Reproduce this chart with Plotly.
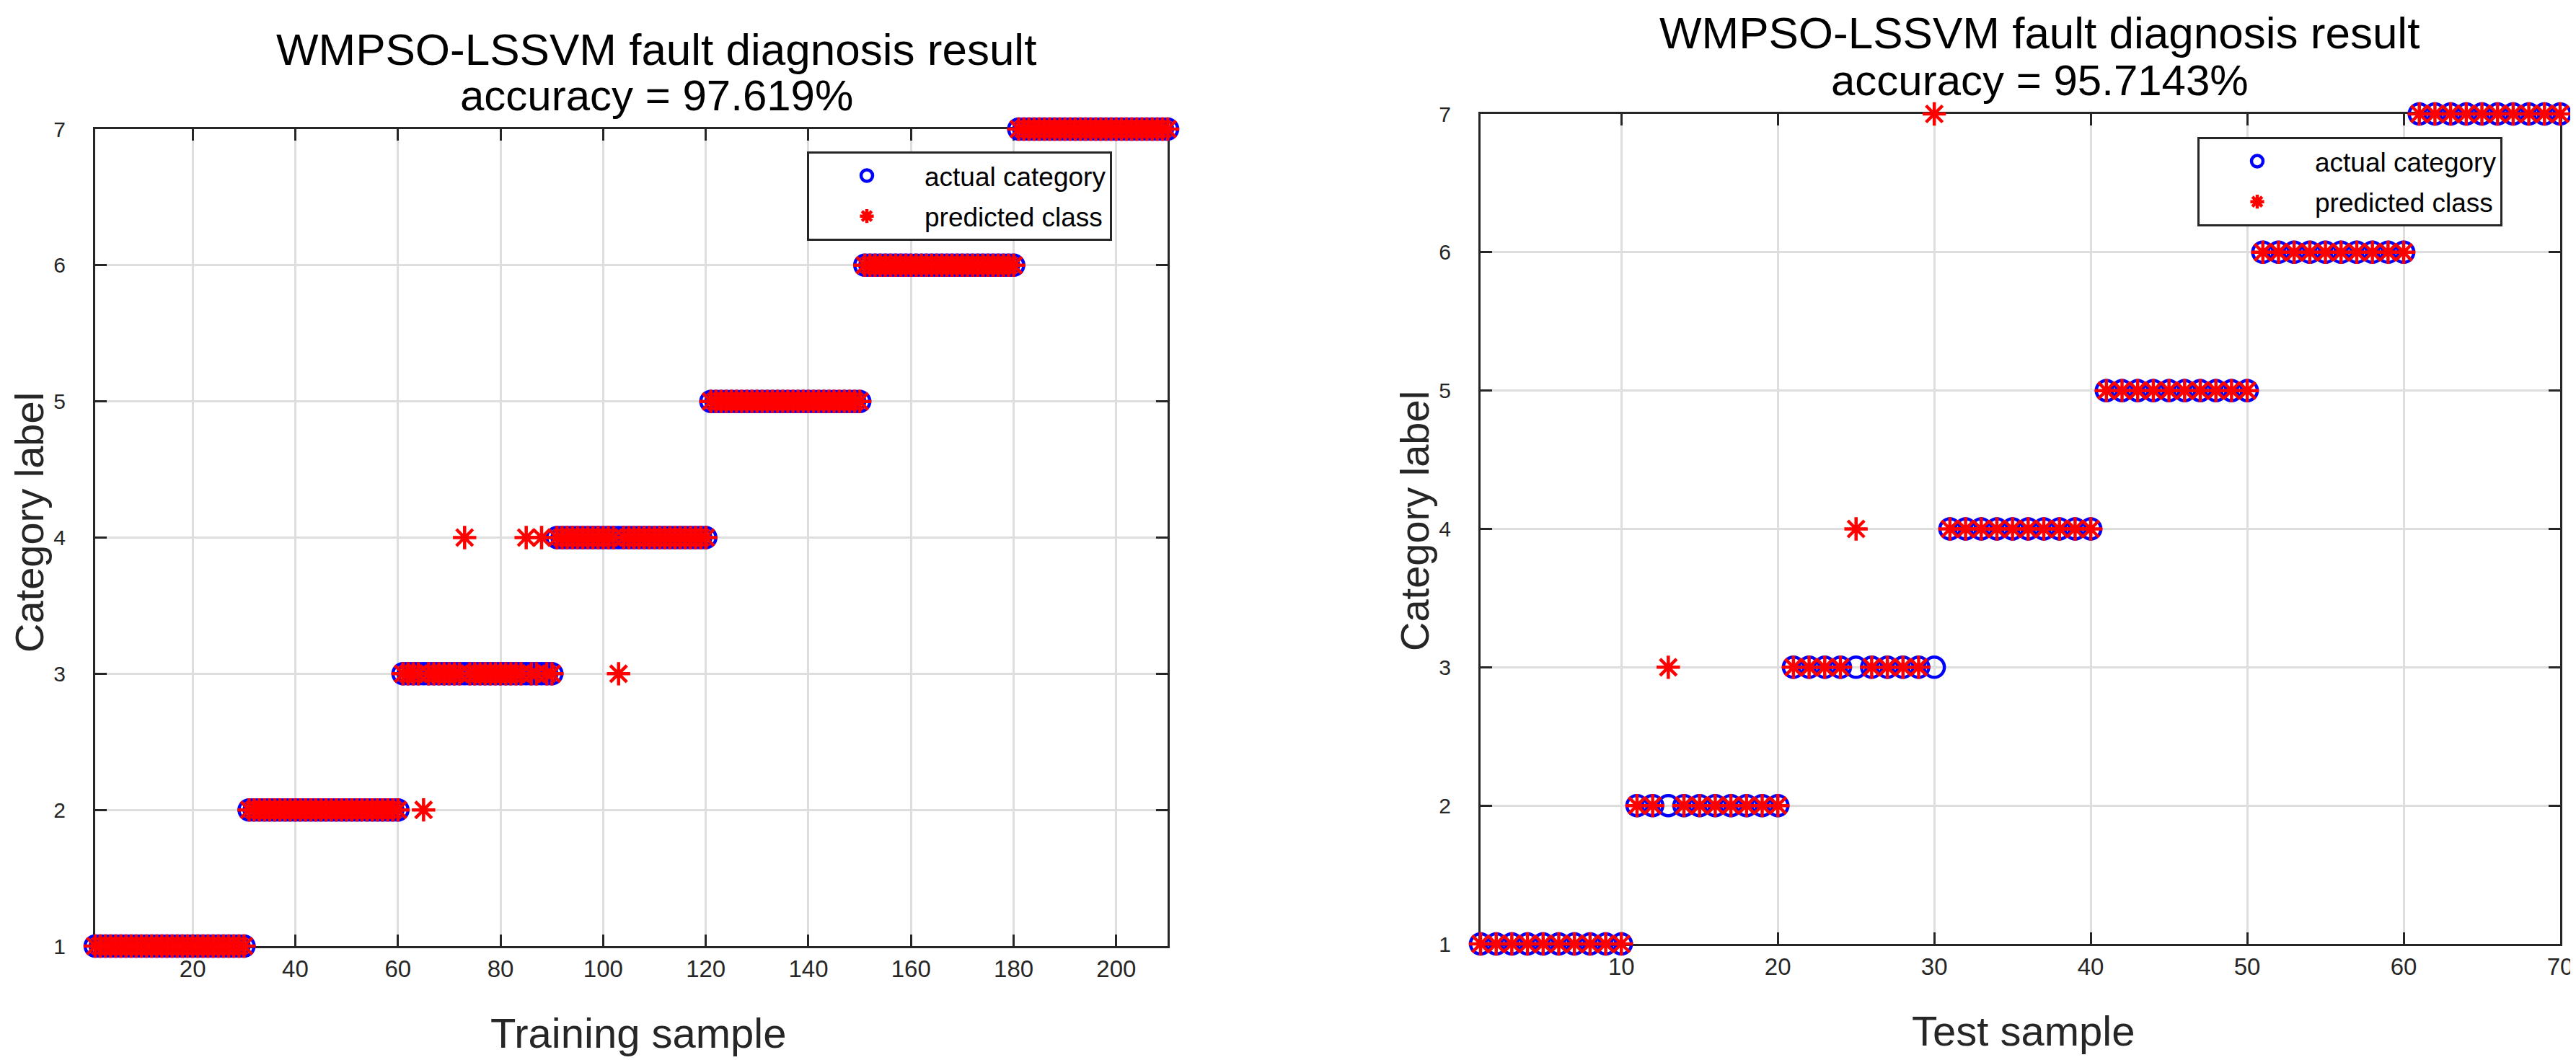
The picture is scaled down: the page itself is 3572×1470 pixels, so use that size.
import plotly.graph_objects as go

# training set: 210 samples, 30 per class
train_idx = list(range(1, 211))
train_actual = [1] * 30 + [2] * 30 + [3] * 30 + [4] * 30 + [5] * 30 + [6] * 30 + [7] * 30
train_errors = {65: 2, 73: 4, 85: 4, 88: 4, 103: 3}   # sample -> wrong predicted class
train_pred = [train_errors.get(i, c) for i, c in zip(train_idx, train_actual)]

# test set: 70 samples, 10 per class
test_idx = list(range(1, 71))
test_actual = [1] * 10 + [2] * 10 + [3] * 10 + [4] * 10 + [5] * 10 + [6] * 10 + [7] * 10
test_errors = {13: 3, 25: 4, 30: 7}
test_pred = [test_errors.get(i, c) for i, c in zip(test_idx, test_actual)]

train_xticks = [20, 40, 60, 80, 100, 120, 140, 160, 180, 200]
test_xticks = [10, 20, 30, 40, 50, 60, 70]
yticks = [1, 2, 3, 4, 5, 6, 7]

title_main = "WMPSO-LSSVM fault diagnosis result"
train_acc = "accuracy = 97.619%"
test_acc = "accuracy = 95.7143%"

W, H = 3572, 1470
FONT = "Liberation Sans, Arial, Helvetica, sans-serif"
AX = "#262626"
GRID = "#dedede"

fig = go.Figure()

def add_pair(x, actual, pred, xa, ya, leg):
    fig.add_trace(go.Scatter(
        x=x, y=actual, mode="markers", name="actual category",
        xaxis=xa, yaxis=ya, legend=leg, legendgroup=leg + "a",
        cliponaxis=False,
        marker=dict(symbol="circle-open", size=28, color="#0000ff",
                    line=dict(width=4.5, color="#0000ff")),
    ))
    fig.add_trace(go.Scatter(
        x=x, y=pred, mode="markers", name="predicted class",
        xaxis=xa, yaxis=ya, legend=leg, legendgroup=leg + "p",
        cliponaxis=False,
        marker=dict(symbol="asterisk-open", size=27, color="#ff0000",
                    line=dict(width=4.5, color="#ff0000")),
    ))

add_pair(train_idx, train_actual, train_pred, "x", "y", "legend")
add_pair(test_idx, test_actual, test_pred, "x2", "y2", "legend2")

def xaxis_style(dom, rng, ticks, anchor):
    return dict(domain=dom, range=rng, tickvals=ticks, anchor=anchor,
                showgrid=True, gridcolor=GRID, gridwidth=3, zeroline=False,
                showline=True, linecolor=AX, linewidth=3, mirror="ticks",
                ticks="inside", ticklen=16, tickwidth=3, tickcolor=AX,
                tickfont=dict(size=33, color=AX, family=FONT),
                layer="below traces", automargin=False)

def yaxis_style(dom, anchor):
    return dict(domain=dom, range=[1, 7], tickvals=yticks, anchor=anchor,
                showgrid=True, gridcolor=GRID, gridwidth=3, zeroline=False,
                showline=True, linecolor=AX, linewidth=3, mirror="ticks",
                ticks="inside", ticklen=16, tickwidth=3, tickcolor=AX,
                tickfont=dict(size=30, color=AX, family=FONT),
                ticklabelstandoff=32,
                layer="below traces", automargin=False)

def legend_style(x, y):
    return dict(x=x, y=y, xanchor="left", yanchor="top",
                bgcolor="white", bordercolor=AX, borderwidth=3,
                font=dict(size=37, color="black", family=FONT),
                itemwidth=150, tracegroupgap=5, traceorder="grouped")

def ann(text, x, y, size, color="black", angle=0, yanchor="bottom"):
    return dict(text=text, x=x / W, y=1 - y / H, xref="paper", yref="paper",
                xanchor="center", yanchor=yanchor, showarrow=False,
                textangle=angle, font=dict(size=size, color=color, family=FONT))

fig.update_layout(
    width=W, height=H,
    margin=dict(l=0, r=0, t=0, b=0),
    paper_bgcolor="white", plot_bgcolor="white",
    font=dict(family=FONT, color=AX),
    xaxis=xaxis_style([124 / W, 1611 / W], [1, 210], train_xticks, "y"),
    yaxis=yaxis_style([1 - 1304 / H, 1 - 171 / H], "x"),
    xaxis2=xaxis_style([2045 / W, 3542 / W], [1, 70], test_xticks, "y2"),
    yaxis2=yaxis_style([1 - 1301 / H, 1 - 150 / H], "x2"),
    legend=legend_style(1111 / W, 1 - 202 / H),
    legend2=legend_style(3039 / W, 1 - 182 / H),
    annotations=[
        ann(title_main, 902, 97, 62),
        ann(train_acc, 902, 160, 60),
        ann(title_main, 2820, 74, 62),
        ann(test_acc, 2820, 139, 60),
        ann("Training sample", 877, 1459, 58, AX),
        ann("Test sample", 2797, 1456, 58, AX),
        ann("Category label", 32, 717, 56, AX, angle=-90, yanchor="middle"),
        ann("Category label", 1953, 715, 56, AX, angle=-90, yanchor="middle"),
    ],
)

fig.write_html("out.html")
